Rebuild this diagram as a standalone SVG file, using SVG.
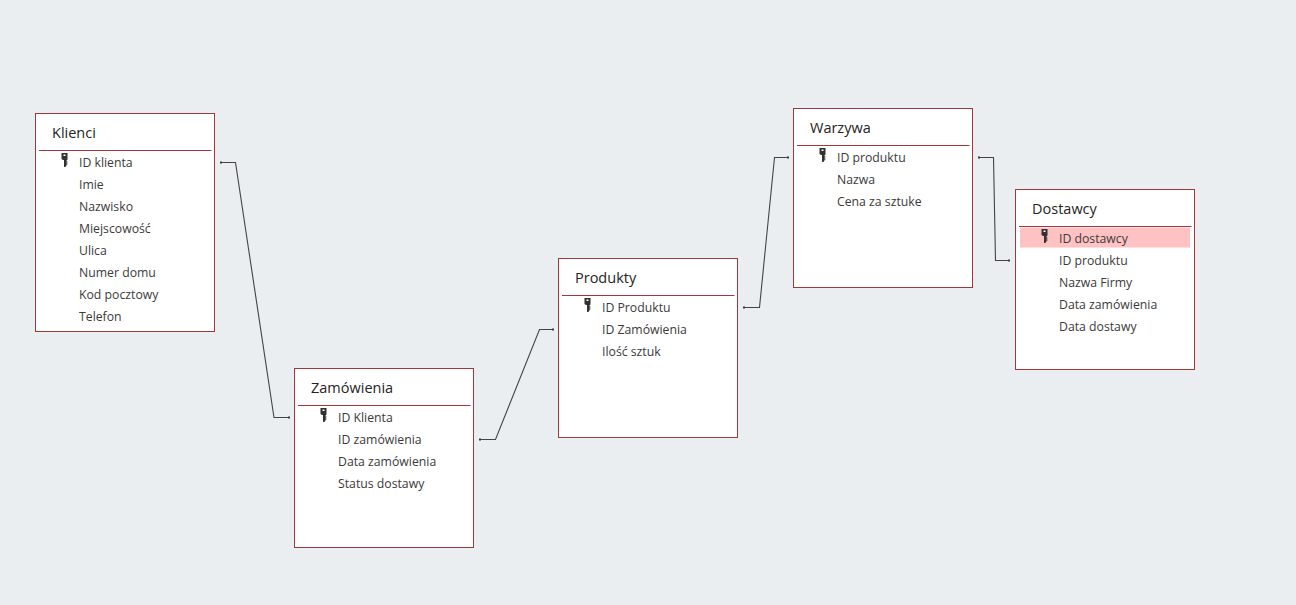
<svg xmlns="http://www.w3.org/2000/svg" width="1296" height="605" viewBox="0 0 1296 605">
<style>
.box{fill:#fff;stroke:#a4373a;stroke-width:1}
.rule{stroke:#a4373a;stroke-width:1;fill:none}
.title{font:14.5px "Open Sans","Noto Sans",sans-serif;fill:#252423}
.row{font:12.25px "Open Sans","Noto Sans",sans-serif;fill:#3b3a39}
.conn{fill:none;stroke:#444;stroke-width:1.100}
.dot{fill:#3b3a39}
</style>
<defs>
<g id="key"><path d="M0 0h6v6.500l-1 1v5l-1.200 1.500h-1.300v-7h-1l-1.500-1z" fill="#323130"/><rect x="2" y="1.500" width="2" height="1.500" fill="#fff"/><path d="M4.500 9h1.500M4.500 11h1.500" stroke="#323130" stroke-width="1"/></g>
</defs>
<rect width="1296" height="605" fill="#eaeef1"/>
<g id="connectors">
<path class="conn" d="M220 162.500H235.500L274 417.500H290"/>
<path class="conn" d="M480 439.500H495.500L539.500 329.500H554"/>
<path class="conn" d="M744 307.500H759.500L774.500 157.500H789"/>
<path class="conn" d="M978 157.500H993.500L995.500 260.500H1010"/>
<g class="dot"><rect x="220" y="161.500" width="2" height="2"/><rect x="288" y="416.500" width="2" height="2"/><rect x="479" y="438.500" width="2" height="2"/><rect x="552" y="328.500" width="2" height="2"/><rect x="743" y="306.500" width="2" height="2"/><rect x="787" y="156.500" width="2" height="2"/><rect x="978" y="156.500" width="2" height="2"/><rect x="1008" y="259.500" width="2" height="2"/></g>
</g>
<g id="klienci" transform="translate(35.500 113.500)">
<rect class="box" width="179" height="218"/><text class="title" x="16.500" y="24">Klienci</text><path class="rule" d="M3.500 37H176"/>
<use href="#key" x="26" y="39.500"/>
<text class="row" x="43.500" y="53">ID klienta</text><text class="row" x="43.500" y="75">Imie</text><text class="row" x="43.500" y="97">Nazwisko</text><text class="row" x="43.500" y="119">Miejscowość</text><text class="row" x="43.500" y="141">Ulica</text><text class="row" x="43.500" y="163">Numer domu</text><text class="row" x="43.500" y="185">Kod pocztowy</text><text class="row" x="43.500" y="207">Telefon</text>
</g>
<g id="zamowienia" transform="translate(294.500 368.500)">
<rect class="box" width="179" height="179"/><text class="title" x="16.500" y="24">Zamówienia</text><path class="rule" d="M3.500 37H176"/>
<use href="#key" x="26" y="39.500"/>
<text class="row" x="43.500" y="53">ID Klienta</text><text class="row" x="43.500" y="75">ID zamówienia</text><text class="row" x="43.500" y="97">Data zamówienia</text><text class="row" x="43.500" y="119">Status dostawy</text>
</g>
<g id="produkty" transform="translate(558.500 258.500)">
<rect class="box" width="179" height="179"/><text class="title" x="16.500" y="24">Produkty</text><path class="rule" d="M3.500 37H176"/>
<use href="#key" x="26" y="39.500"/>
<text class="row" x="43.500" y="53">ID Produktu</text><text class="row" x="43.500" y="75">ID Zamówienia</text><text class="row" x="43.500" y="97">Ilość sztuk</text>
</g>
<g id="warzywa" transform="translate(793.500 108.500)">
<rect class="box" width="179" height="179"/><text class="title" x="16.500" y="24">Warzywa</text><path class="rule" d="M3.500 37H176"/>
<use href="#key" x="26" y="39.500"/>
<text class="row" x="43.500" y="53">ID produktu</text><text class="row" x="43.500" y="75">Nazwa</text><text class="row" x="43.500" y="97">Cena za sztuke</text>
</g>
<g id="dostawcy" transform="translate(1015.500 189.500)">
<rect class="box" width="179" height="180"/><text class="title" x="16.500" y="24">Dostawcy</text><path class="rule" d="M3.500 37H176"/>
<rect x="4.500" y="38" width="170" height="20" fill="#fec2c2"/>
<use href="#key" x="26" y="39.500"/>
<text class="row" x="43.500" y="53">ID dostawcy</text><text class="row" x="43.500" y="75">ID produktu</text><text class="row" x="43.500" y="97">Nazwa Firmy</text><text class="row" x="43.500" y="119">Data zamówienia</text><text class="row" x="43.500" y="141">Data dostawy</text>
</g>
</svg>
